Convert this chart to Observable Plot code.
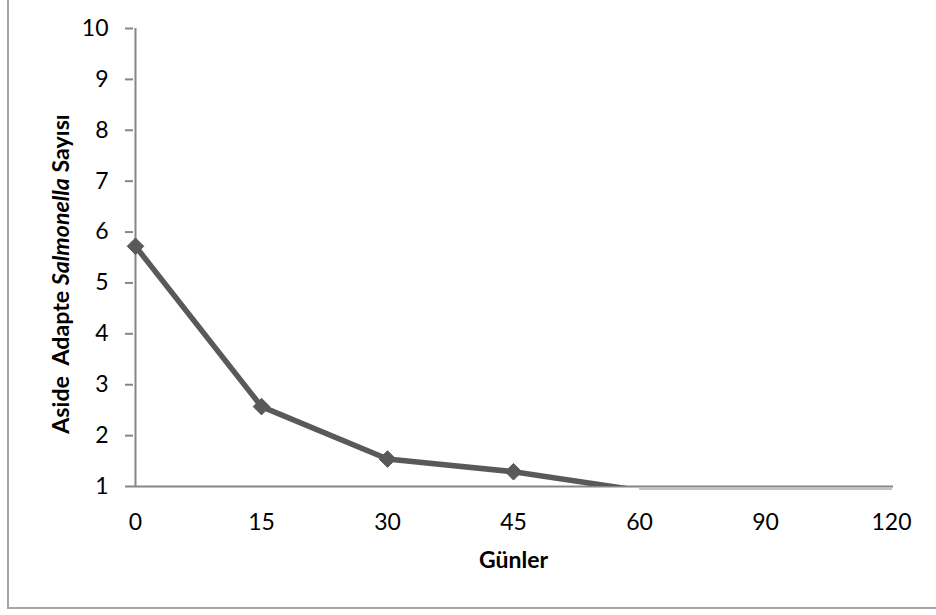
<!DOCTYPE html>
<html>
<head>
<meta charset="utf-8">
<script src="https://cdn.jsdelivr.net/npm/d3@7"></script>
<script src="https://cdn.jsdelivr.net/npm/@observablehq/plot@0.6"></script>
<style>
  html, body { margin: 0; padding: 0; background: #fff; }
  #wrap { position: relative; width: 936px; height: 615px; overflow: hidden; }
  #frame { position: absolute; left: 7px; top: -10px; width: 1000px; height: 619px;
           border-left: 2px solid #a6a6a6; border-bottom: 2px solid #a6a6a6; box-sizing: border-box; }
  #chart { position: absolute; left: 0; top: 0; }
</style>
</head>
<body>
<div id="wrap"><div id="frame"></div><div id="chart"></div></div>
<script>
const days = ["0", "15", "30", "45", "60", "90", "120"];
const counts = [5.72, 2.57, 1.54, 1.29, 0.92, 0.92, 0.92];
const yTicks = [1, 2, 3, 4, 5, 6, 7, 8, 9, 10];
const xTitle = "Günler";
const yTitleParts = [["Aside  Adapte ", "normal"], ["Salmonella", "italic"], [" Sayısı", "normal"]];

const data = days.map((d, i) => ({day: d, value: counts[i]}));
const belowAxis = data.filter(d => d.value < 1);

const font = "Lato, 'Open Sans', sans-serif";
const plot = Plot.plot({
  width: 936,
  height: 615,
  marginLeft: 133,
  marginRight: 43,
  marginTop: 28,
  marginBottom: 129,
  style: {fontFamily: font, fontSize: "23px", color: "#000", background: "transparent"},
  x: {type: "point", domain: days, padding: 0, label: null},
  y: {domain: [1, 10], label: null},
  marks: [
    Plot.ruleY([1], {stroke: "#868686", strokeWidth: 2}),
    Plot.lineY(belowAxis, {x: "day", y: () => 1, dy: 2.5, stroke: "#868686", strokeWidth: 1.2}),
    Plot.ruleX([days[0]], {stroke: "#868686", strokeWidth: 2}),
    Plot.axisY({ticks: yTicks, tickSize: 8, tickPadding: 17, stroke: "#868686", strokeWidth: 2, fill: "#000", fontSize: 23}),
    Plot.axisX({tickSize: 0, tickPadding: 27, fill: "#000", fontSize: 23}),
    Plot.lineY(data, {x: "day", y: "value", stroke: "#595959", strokeWidth: 5.5, clip: true}),
    Plot.dot(data.filter(d => d.value >= 1), {x: "day", y: "value", symbol: "diamond2", r: 7.5, fill: "#595959", stroke: "#595959", strokeWidth: 1}),
    Plot.text([xTitle], {frameAnchor: "bottom", lineAnchor: "middle", dy: 74, text: d => d, fontWeight: "bold", fontSize: 23, fill: "#000"})
  ]
});
document.getElementById("chart").appendChild(plot);

const svg = d3.select(plot);
// make sure tick labels use the intended size
svg.selectAll('g[aria-label="y-axis tick label"], g[aria-label="x-axis tick label"]')
  .attr("font-size", 23)
  .selectAll("text").attr("font-size", 23);

// y-axis title with mixed italic via tspans
const t = svg.append("text")
  .attr("transform", `translate(69, 274) rotate(-90)`)
  .attr("text-anchor", "middle")
  .attr("font-family", font)
  .attr("font-size", 23.2)
  .attr("font-weight", "bold")
  .attr("fill", "#000");
yTitleParts.forEach(([s, st]) => t.append("tspan").attr("font-style", st).attr("xml:space", "preserve").style("white-space", "pre").text(s));
</script>
</body>
</html>
